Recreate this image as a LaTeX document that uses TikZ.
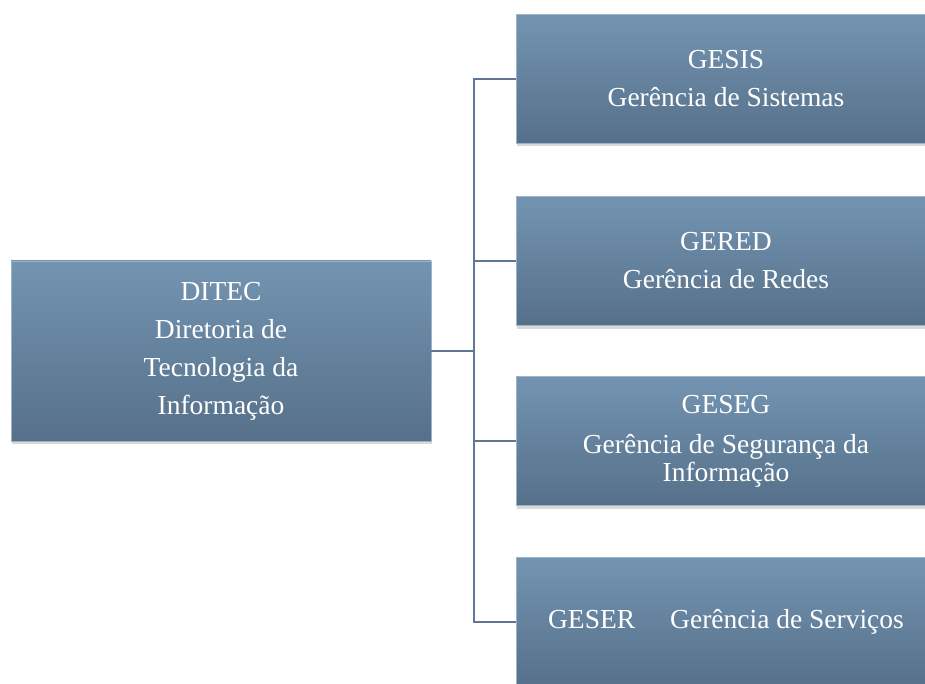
\documentclass[tikz,border=0pt]{standalone}
\usepackage{fontspec}
\setmainfont{Liberation Serif}
\usetikzlibrary{shadows}
\definecolor{boxtop}{HTML}{7394B1}
\definecolor{boxbottom}{HTML}{56708A}
\definecolor{linkcol}{HTML}{5F7794}
\tikzset{
  unit/.style={top color=boxtop, bottom color=boxbottom, draw=boxtop!70!white,
    line width=0.4pt, text=white, align=center, inner sep=0pt,
    font=\fontsize{27.5}{28}\selectfont,
    drop shadow={opacity=0.3, shadow xshift=1pt, shadow yshift=-3pt}},
  link/.style={draw=linkcol, line width=1.6pt}
}
\begin{document}
\begin{tikzpicture}[x=1pt, y=-1pt]
        % Define sizes
        \def\boxW{420}
        \def\boxH{129}

        \useasboundingbox (0,0) rectangle (925,684);
        \clip (0,0) rectangle (925,684);

        % Draw the directorate
        \node[unit, minimum width=\boxW pt, minimum height=180pt] (ditec) at (221,351)
            {DITEC\\[10pt]Diretoria de\\[10pt]Tecnologia da\\[10pt]Informação};

        % Draw the managements
        \node[unit, minimum width=\boxW pt, minimum height=\boxH pt] (gesis) at (726,79)
            {GESIS\\[10pt]Gerência de Sistemas};
        \node[unit, minimum width=\boxW pt, minimum height=\boxH pt] (gered) at (726,261)
            {GERED\\[10pt]Gerência de Redes};
        \node[unit, minimum width=\boxW pt, minimum height=\boxH pt] (geseg) at (726,441)
            {GESEG\\[12pt]Gerência de Segurança da\\Informação};
        \node[unit, minimum width=\boxW pt, minimum height=\boxH pt] (geser) at (726,622)
            {GESER\hspace{35pt}Gerência de Serviços};

        % Connect them
        \coordinate (hub) at (474,351);
        \draw[link] (ditec.east) -- (hub);
        \foreach \n in {gesis,gered,geseg,geser}
            \draw[link] (hub) |- (\n.west);
    \end{tikzpicture}
\end{document}
